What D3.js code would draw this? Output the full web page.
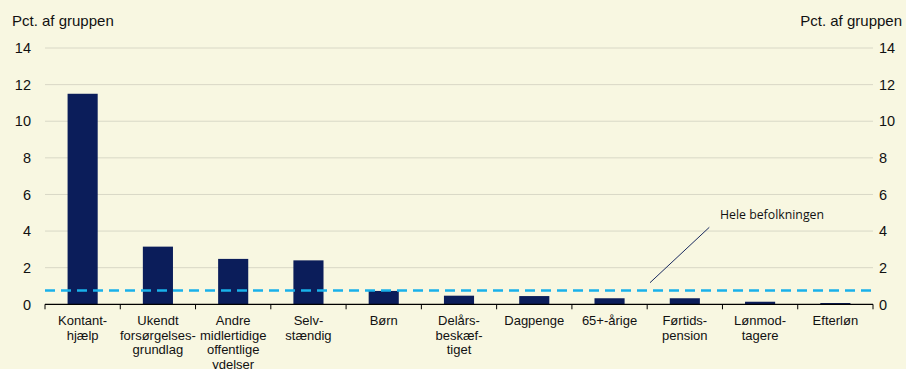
<!DOCTYPE html>
<html><head><meta charset="utf-8">
<script src="https://cdn.jsdelivr.net/npm/d3@7"></script>
<style>body{margin:0;background:#f8f7e1;} svg{display:block;}</style>
</head><body>
<script>
const categories = [
  ["Kontant-","hjælp"],
  ["Ukendt","forsørgelses-","grundlag"],
  ["Andre","midlertidige","offentlige","ydelser"],
  ["Selv-","stændig"],
  ["Børn"],
  ["Delårs-","beskæf-","tiget"],
  ["Dagpenge"],
  ["65+-årige"],
  ["Førtids-","pension"],
  ["Lønmod-","tagere"],
  ["Efterløn"]
];
const values = [11.5, 3.15, 2.48, 2.4, 0.73, 0.47, 0.45, 0.33, 0.33, 0.14, 0.07];
const wholePopulation = 0.75;
const yTicks = [0, 2, 4, 6, 8, 10, 12, 14];
const axisTitle = "Pct. af gruppen";
const annotation = "Hele befolkningen";

const W = 906, H = 369;
const svg = d3.select("body").append("svg").attr("width", W).attr("height", H);
svg.append("rect").attr("width", W).attr("height", H).attr("fill", "#f8f7e1");

const x0 = 45, x1 = 873, yTop = 48, yBot = 304.3;
const ids = categories.map((d, i) => i);
const x = d3.scaleBand().domain(ids).range([x0, x1]).paddingInner(0.6).paddingOuter(0.3);
const y = d3.scaleLinear().domain([0, 14]).range([yBot, yTop]);
const font = "'Liberation Sans', Arial, sans-serif";

// gridlines
svg.append("g").selectAll("line").data(yTicks.filter(t => t > 0)).join("line")
  .attr("x1", x0).attr("x2", x1)
  .attr("y1", d => y(d)).attr("y2", d => y(d))
  .attr("stroke", "#d9d8c6").attr("stroke-width", 1);

// bars
svg.append("g").selectAll("rect").data(values).join("rect")
  .attr("x", (d, i) => x(i)).attr("width", x.bandwidth())
  .attr("y", d => y(d)).attr("height", d => y(0) - y(d))
  .attr("fill", "#0b1d5a");

// dashed line
svg.append("line").attr("x1", x0).attr("x2", x1)
  .attr("y1", y(wholePopulation)).attr("y2", y(wholePopulation))
  .attr("stroke", "#19b1ea").attr("stroke-width", 2.5).attr("stroke-dasharray", "10,6");

// x axis baseline and ticks
svg.append("line").attr("x1", x0).attr("x2", x1).attr("y1", yBot).attr("y2", yBot)
  .attr("stroke", "#000").attr("stroke-width", 1.2);
const step = x.step();
const boundaries = ids.map(i => x(i) - (step - x.bandwidth()) / 2).concat([x1]);
svg.append("g").selectAll("line").data(boundaries).join("line")
  .attr("x1", d => d).attr("x2", d => d).attr("y1", yBot).attr("y2", yBot + 5)
  .attr("stroke", "#000").attr("stroke-width", 1);

// y tick labels both sides
const yl = svg.append("g").attr("font-family", font).attr("font-size", 14.5).attr("fill", "#111");
yl.selectAll("text.l").data(yTicks).join("text").attr("class", "l")
  .attr("x", 31).attr("y", d => y(d)).attr("dy", "0.36em").attr("text-anchor", "end").text(d => d);
yl.selectAll("text.r").data(yTicks).join("text").attr("class", "r")
  .attr("x", 879).attr("y", d => y(d)).attr("dy", "0.36em").attr("text-anchor", "start").text(d => d);

// titles
svg.append("text").attr("x", 12).attr("y", 26).attr("font-family", font).attr("font-size", 15)
  .attr("fill", "#111").text(axisTitle);
svg.append("text").attr("x", 902).attr("y", 26).attr("font-family", font).attr("font-size", 15)
  .attr("text-anchor", "end").attr("fill", "#111").text(axisTitle);

// category labels
const cl = svg.append("g").attr("font-family", font).attr("font-size", 13).attr("fill", "#111");
categories.forEach((lines, i) => {
  const cx = x(i) + x.bandwidth() / 2;
  const t = cl.append("text").attr("x", cx).attr("y", 325).attr("text-anchor", "middle");
  lines.forEach((s, j) => t.append("tspan").attr("x", cx).attr("dy", j ? 14.7 : 0).text(s));
});

// annotation
svg.append("line").attr("x1", 650).attr("y1", 282.7).attr("x2", 709.3).attr("y2", 227.3)
  .attr("stroke", "#1a2a5e").attr("stroke-width", 1);
svg.append("text").attr("x", 720).attr("y", 219).attr("font-family", "'Open Sans', Lato, sans-serif")
  .attr("font-size", 12.3).attr("fill", "#111").text(annotation);
</script>
</body></html>
